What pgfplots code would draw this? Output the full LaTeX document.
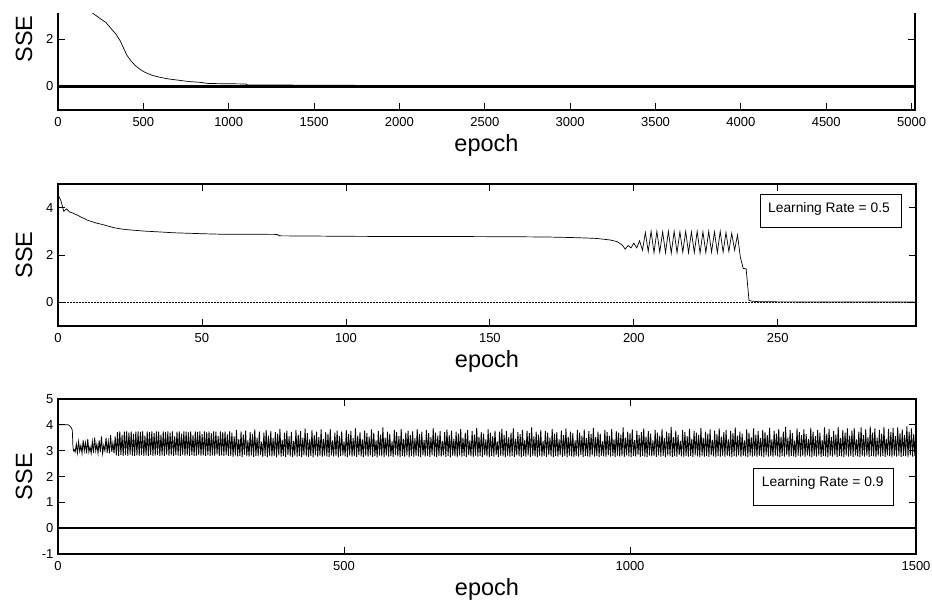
\documentclass[border=0pt]{standalone}
\usepackage{fontspec}
\setmainfont{Liberation Sans}
\usepackage{pgfplots}
\pgfplotsset{compat=1.18}
\pgfplotsset{
  sseaxis/.style={
    scale only axis,
    anchor=south west,
    axis line style={line width=1.1pt},
    every tick/.style={black, line width=0.8pt},
    tick align=inside,
    major tick length=7pt,
    /pgf/number format/assume math mode=true,
    /pgf/number format/1000 sep={},
    ticklabel style={font=\fontsize{13}{15}\selectfont},
    xticklabel style={yshift=-3.5pt},
    yticklabel style={xshift=-1pt},
    label style={font=\fontsize{23.5}{26}\selectfont},
    xlabel style={at={(axis description cs:0.5,0)}, anchor=center, yshift=-35pt},
    ylabel style={at={(axis description cs:-0.0396,0.5)}, anchor=center},
    xlabel={epoch}, ylabel={SSE},
    ymin=-1, ymax=5, xmin=0,
  }
}
\begin{document}
\begin{tikzpicture}
\useasboundingbox (0pt,0pt) rectangle (932pt,-603pt);
\clip (0pt,-13pt) rectangle (932pt,-603pt);

% ---------- top plot ----------
\begin{axis}[sseaxis, at={(58pt,-110pt)}, width=857pt, height=142pt,
  xmax=5020, xtick={0,500,...,5000}, ytick={0,2}]
\addplot[black, line width=2.4pt] coordinates {(0,0) (5020,0)};
\addplot[black, line width=0.7pt] coordinates {
 (0,3.9) (100,3.6) (150,3.4) (205,3.08) (250,2.85) (280,2.7) (305,2.49) (340,2.2)
 (363,1.94) (385,1.6) (404,1.31) (430,1.05) (451,0.89) (480,0.72) (510,0.59)
 (550,0.47) (598,0.38) (650,0.31) (715,0.25) (770,0.2) (832,0.17) (880,0.12)
 (1100,0.1) (1110,0.06) (1800,0.04) (1810,0.01) (5000,0.01)};
\end{axis}

% ---------- middle plot ----------
\begin{axis}[sseaxis, at={(58pt,-326pt)}, width=858pt, height=142pt,
  xmax=298, xtick={0,50,...,250}, ytick={0,2,4}]
\addplot[black, line width=1.5pt, dash pattern=on 2pt off 1pt] coordinates {(0,0) (298,0)};
\addplot[black, line width=0.7pt] coordinates {
 (0,4.55) (1,4.3) (2,3.85) (3,3.95) (4,3.82) (5,3.78) (6,3.72) (7,3.67) (8,3.6)
 (9,3.55) (10,3.48) (11,3.44) (12,3.4) (13,3.36) (14,3.33) (15,3.3) (16,3.27)
 (18,3.2) (20,3.14) (22,3.1) (24,3.07) (26,3.05) (28,3.03) (30,3.01) (33,2.99)
 (36,2.97) (40,2.94) (45,2.92) (50,2.9) (56,2.88) (65,2.88) (76,2.87) (77,2.81)
 (90,2.8) (100,2.79) (120,2.78) (140,2.78) (160,2.77) (170,2.76) (178,2.74)
 (183,2.72) (187,2.7) (190,2.66) (192,2.63) (194,2.57) (195,2.5) (196,2.42)
 (197,2.25) (198,2.4) (199,2.3) (200,2.5) (201,2.3) (202,2.6) (203,2.2)
 (204,2.95) (205,2.15) (206,3.0) (207,2.1) (208,3.0) (209,2.12) (210,2.98)
 (211,2.1) (212,3.0) (213,2.08) (214,3.0) (215,2.1) (216,2.98) (217,2.12)
 (218,3.0) (219,2.1) (220,2.98) (221,2.1) (222,3.0) (223,2.08) (224,2.98)
 (225,2.1) (226,3.0) (227,2.12) (228,2.98) (229,2.1) (230,3.0) (231,2.12)
 (232,2.95) (233,2.15) (234,2.92) (235,2.2) (236,2.85) (237,1.9) (238,1.43)
 (239,1.42) (240,0.08) (241,0.05) (243,0.03) (250,0.02) (298,0.01)};
\end{axis}

% ---------- bottom plot ----------
\begin{axis}[sseaxis, at={(58pt,-554pt)}, width=858pt, height=155pt,
  xmax=1500, xtick={0,500,1000,1500}, ytick={-1,0,...,5}]
\addplot[black, line width=2pt] coordinates {(0,0) (1500,0)};
\addplot[black, line width=0.7pt] coordinates {
 (0,5.0) (1,4.05) (2,4.0) (18,4.0) (20,3.97) (23,3.9) (25,3.8) (26,3.2) (27,3.0) (28,3.05)};
\addplot[black, line width=0.85pt] table[row sep=\\, x expr=\coordindex*2+28, y index=0] {
y\\
3.05\\ 2.95\\ 3.25\\ 2.92\\ 3.35\\ 2.98\\ 3.2\\ 2.9\\ 3.4\\ 3.0\\ 3.3\\ 2.9\\ 3.45\\ 2.95\\ 3.15\\ 2.9\\ 3.35\\ 2.92\\ 3.5\\ 3.0\\
3.25\\ 2.9\\ 3.4\\ 2.95\\ 3.55\\ 2.9\\ 3.2\\ 3.0\\ 3.5\\ 2.92\\ 3.35\\ 2.9\\ 3.6\\ 2.95\\ 3.3\\ 2.9\\ 3.55\\
2.82\\ 3.72\\ 2.8\\ 3.75\\ 2.84\\ 3.6\\ 2.8\\ 3.74\\ 2.83\\ 3.75\\ 2.8\\ 3.7\\ 2.85\\ 3.75\\ 2.81\\ 3.65\\ 2.8\\ 3.74\\ 2.82\\ 3.75\\
2.8\\ 3.73\\ 2.83\\ 3.75\\ 2.8\\ 3.58\\ 2.82\\ 3.75\\ 2.8\\ 3.72\\ 2.84\\ 3.75\\ 2.8\\ 3.68\\ 2.81\\ 3.75\\ 2.83\\ 3.74\\ 2.8\\ 3.62\\
2.82\\ 3.75\\ 2.8\\ 3.73\\ 2.85\\ 3.75\\ 2.8\\ 3.7\\ 2.82\\ 3.75\\ 2.8\\ 3.55\\ 2.83\\ 3.74\\ 2.81\\ 3.75\\ 2.8\\ 3.66\\ 2.84\\ 3.75\\
2.8\\ 3.74\\ 2.82\\ 3.71\\ 2.8\\ 3.75\\ 2.83\\ 3.6\\ 2.8\\ 3.75\\ 2.81\\ 3.73\\ 2.84\\ 3.75\\ 2.8\\ 3.64\\ 2.82\\ 3.75\\ 2.8\\ 3.72\\
2.83\\ 3.75\\ 2.8\\ 3.68\\ 2.82\\ 3.75\\ 2.8\\ 3.74\\ 2.85\\ 3.57\\ 2.8\\ 3.75\\ 2.82\\ 3.72\\ 2.8\\ 3.75\\ 2.83\\ 3.63\\ 2.8\\ 3.75\\
2.8\\ 3.7\\ 2.76\\ 3.55\\ 2.82\\ 3.8\\ 2.78\\ 3.45\\ 2.8\\ 3.75\\ 2.75\\ 3.62\\ 2.84\\ 3.78\\ 2.79\\ 3.4\\ 2.77\\ 3.72\\ 2.82\\ 3.65\\
2.76\\ 3.82\\ 2.8\\ 3.5\\ 2.78\\ 3.74\\ 2.83\\ 3.35\\ 2.76\\ 3.7\\ 2.8\\ 3.8\\ 2.75\\ 3.58\\ 2.81\\ 3.76\\ 2.78\\ 3.48\\ 2.8\\ 3.72\\
2.74\\ 3.66\\ 2.82\\ 3.84\\ 2.77\\ 3.42\\ 2.8\\ 3.7\\ 2.76\\ 3.78\\ 2.83\\ 3.55\\ 2.78\\ 3.73\\ 2.75\\ 3.38\\ 2.81\\ 3.8\\ 2.77\\ 3.62\\
2.8\\ 3.76\\ 2.75\\ 3.5\\ 2.82\\ 3.85\\ 2.78\\ 3.68\\ 2.76\\ 3.44\\ 2.8\\ 3.79\\ 2.74\\ 3.6\\ 2.83\\ 3.74\\ 2.77\\ 3.52\\ 2.8\\ 3.82\\
2.76\\ 3.46\\ 2.81\\ 3.72\\ 2.78\\ 3.66\\ 2.75\\ 3.83\\ 2.82\\ 3.4\\ 2.77\\ 3.7\\ 2.8\\ 3.78\\ 2.74\\ 3.56\\ 2.79\\ 3.75\\ 2.82\\ 3.36\\
2.78\\ 3.8\\ 2.75\\ 3.64\\ 2.81\\ 3.76\\ 2.77\\ 3.48\\ 2.8\\ 3.86\\ 2.76\\ 3.58\\ 2.83\\ 3.72\\ 2.78\\ 3.44\\ 2.75\\ 3.78\\ 2.8\\ 3.68\\
2.77\\ 3.54\\ 2.82\\ 3.82\\ 2.76\\ 3.7\\ 2.8\\ 3.4\\ 2.74\\ 3.76\\ 2.81\\ 3.62\\ 2.78\\ 3.9\\ 2.75\\ 3.5\\ 2.82\\ 3.74\\ 2.77\\ 3.66\\
2.8\\ 3.36\\ 2.76\\ 3.8\\ 2.83\\ 3.72\\ 2.78\\ 3.56\\ 2.75\\ 3.84\\ 2.8\\ 3.46\\ 2.77\\ 3.7\\ 2.82\\ 3.78\\ 2.74\\ 3.6\\ 2.8\\ 3.75\\
2.76\\ 3.48\\ 2.81\\ 3.83\\ 2.78\\ 3.64\\ 2.75\\ 3.74\\ 2.82\\ 3.42\\ 2.77\\ 3.8\\ 2.8\\ 3.68\\ 2.76\\ 3.52\\ 2.83\\ 3.87\\ 2.78\\ 3.7\\
2.75\\ 3.58\\ 2.8\\ 3.76\\ 2.77\\ 3.38\\ 2.82\\ 3.72\\ 2.76\\ 3.82\\ 2.8\\ 3.6\\ 2.74\\ 3.78\\ 2.81\\ 3.46\\ 2.78\\ 3.74\\ 2.75\\ 3.66\\
2.82\\ 3.84\\ 2.77\\ 3.5\\ 2.8\\ 3.7\\ 2.76\\ 3.8\\ 2.83\\ 3.4\\ 2.78\\ 3.76\\ 2.75\\ 3.62\\ 2.81\\ 3.88\\ 2.77\\ 3.54\\ 2.8\\ 3.72\\
2.76\\ 3.66\\ 2.82\\ 3.44\\ 2.78\\ 3.82\\ 2.75\\ 3.7\\ 2.8\\ 3.56\\ 2.77\\ 3.78\\ 2.83\\ 3.36\\ 2.76\\ 3.74\\ 2.8\\ 3.84\\ 2.78\\ 3.6\\
2.75\\ 3.76\\ 2.81\\ 3.52\\ 2.77\\ 3.7\\ 2.8\\ 3.86\\ 2.76\\ 3.46\\ 2.82\\ 3.72\\ 2.78\\ 3.64\\ 2.75\\ 3.8\\ 2.8\\ 3.42\\ 2.77\\ 3.78\\
2.82\\ 3.68\\ 2.76\\ 3.9\\ 2.8\\ 3.55\\ 2.78\\ 3.74\\ 2.75\\ 3.62\\ 2.81\\ 3.8\\ 2.77\\ 3.38\\ 2.8\\ 3.76\\ 2.76\\ 3.7\\ 2.83\\ 3.5\\
2.78\\ 3.84\\ 2.75\\ 3.66\\ 2.8\\ 3.72\\ 2.77\\ 3.44\\ 2.82\\ 3.78\\ 2.76\\ 3.6\\ 2.8\\ 3.86\\ 2.74\\ 3.54\\ 2.81\\ 3.74\\ 2.78\\ 3.68\\
2.76\\ 3.4\\ 2.8\\ 3.8\\ 2.77\\ 3.7\\ 2.83\\ 3.58\\ 2.75\\ 3.82\\ 2.8\\ 3.48\\ 2.78\\ 3.76\\ 2.76\\ 3.64\\ 2.82\\ 3.88\\ 2.77\\ 3.52\\
2.8\\ 3.74\\ 2.75\\ 3.66\\ 2.81\\ 3.36\\ 2.78\\ 3.8\\ 2.76\\ 3.72\\ 2.82\\ 3.56\\ 2.77\\ 3.84\\ 2.8\\ 3.44\\ 2.75\\ 3.76\\ 2.81\\ 3.7\\
2.77\\ 3.62\\ 2.8\\ 3.9\\ 2.76\\ 3.5\\ 2.82\\ 3.74\\ 2.78\\ 3.68\\ 2.75\\ 3.82\\ 2.8\\ 3.42\\ 2.77\\ 3.78\\ 2.83\\ 3.6\\ 2.76\\ 3.72\\
2.8\\ 3.86\\ 2.77\\ 3.54\\ 2.75\\ 3.76\\ 2.81\\ 3.66\\ 2.78\\ 3.4\\ 2.8\\ 3.8\\ 2.76\\ 3.7\\ 2.82\\ 3.58\\ 2.77\\ 3.84\\ 2.8\\ 3.48\\
2.75\\ 3.74\\ 2.81\\ 3.68\\ 2.78\\ 3.92\\ 2.76\\ 3.52\\ 2.8\\ 3.78\\ 2.77\\ 3.62\\ 2.83\\ 3.38\\ 2.78\\ 3.8\\ 2.75\\ 3.72\\ 2.8\\ 3.56\\
2.77\\ 3.84\\ 2.8\\ 3.46\\ 2.76\\ 3.76\\ 2.82\\ 3.7\\ 2.78\\ 3.6\\ 2.75\\ 3.88\\ 2.81\\ 3.5\\ 2.77\\ 3.74\\ 2.8\\ 3.66\\ 2.76\\ 3.82\\
2.82\\ 3.42\\ 2.78\\ 3.78\\ 2.75\\ 3.64\\ 2.8\\ 3.86\\ 2.77\\ 3.54\\ 2.81\\ 3.72\\ 2.76\\ 3.8\\ 2.8\\ 3.44\\ 2.78\\ 3.76\\ 2.75\\ 3.68\\
2.8\\ 3.9\\ 2.77\\ 3.58\\ 2.82\\ 3.74\\ 2.76\\ 3.66\\ 2.8\\ 3.4\\ 2.78\\ 3.82\\ 2.75\\ 3.7\\ 2.81\\ 3.52\\ 2.77\\ 3.86\\ 2.8\\ 3.62\\
2.76\\ 3.76\\ 2.8\\ 3.48\\ 2.78\\ 3.8\\ 2.75\\ 3.72\\ 2.82\\ 3.6\\ 2.77\\ 3.88\\ 2.8\\ 3.44\\ 2.76\\ 3.78\\ 2.81\\ 3.66\\ 2.78\\ 3.84\\
2.75\\ 3.54\\ 2.8\\ 3.74\\ 2.77\\ 3.92\\ 2.82\\ 3.5\\ 2.76\\ 3.8\\ 2.8\\ 3.68\\ 2.78\\ 3.4\\ 2.75\\ 3.86\\ 2.81\\ 3.72\\ 2.77\\ 3.6\\
2.8\\ 3.82\\ 2.76\\ 3.64\\ 2.82\\ 3.46\\ 2.78\\ 3.88\\ 2.75\\ 3.74\\ 2.8\\ 3.56\\ 2.77\\ 3.8\\ 2.81\\ 3.7\\ 2.76\\ 3.42\\ 2.8\\ 3.9\\
2.78\\ 3.66\\ 2.75\\ 3.84\\ 2.8\\ 3.52\\ 2.77\\ 3.76\\ 2.82\\ 3.62\\ 2.76\\ 3.92\\ 2.8\\ 3.48\\ 2.78\\ 3.8\\ 2.75\\ 3.7\\ 2.81\\ 3.86\\
2.77\\ 3.58\\ 2.8\\ 3.78\\ 2.76\\ 3.88\\ 2.82\\ 3.44\\ 2.78\\ 3.74\\ 2.75\\ 3.9\\ 2.8\\ 3.6\\ 2.77\\ 3.82\\ 2.81\\ 3.52\\ 2.76\\ 3.94\\
2.8\\ 3.7\\ 2.78\\ 3.86\\ 2.75\\ 3.5\\ 2.81\\ 3.8\\ 2.77\\ 3.66\\ 2.8\\ 3.92\\ 2.76\\ 3.46\\ 2.82\\ 3.84\\ 2.78\\ 3.72\\ 2.75\\ 3.88\\
2.8\\ 3.56\\ 2.77\\ 3.9\\ 2.81\\ 3.68\\ 2.76\\ 3.82\\ 2.8\\ 3.6\\ 2.78\\ 3.94\\ 2.75\\ 3.74\\ 2.82\\ 3.86\\ 2.77\\ 3.64\\ 2.8\\ 3.9\\
};
\end{axis}

% ---------- annotation boxes ----------
\draw[line width=0.8pt, fill=white] (760pt,-194pt) rectangle (901pt,-227pt);
\node[anchor=base west, inner sep=0pt, font=\fontsize{13.8}{16}\selectfont] at (768pt,-212.7pt) {Learning Rate = 0.5};
\draw[line width=0.8pt, fill=white] (753pt,-468pt) rectangle (893pt,-505pt);
\node[anchor=base west, inner sep=0pt, font=\fontsize{13.8}{16}\selectfont] at (761.7pt,-486pt) {Learning Rate = 0.9};
\end{tikzpicture}
\end{document}
